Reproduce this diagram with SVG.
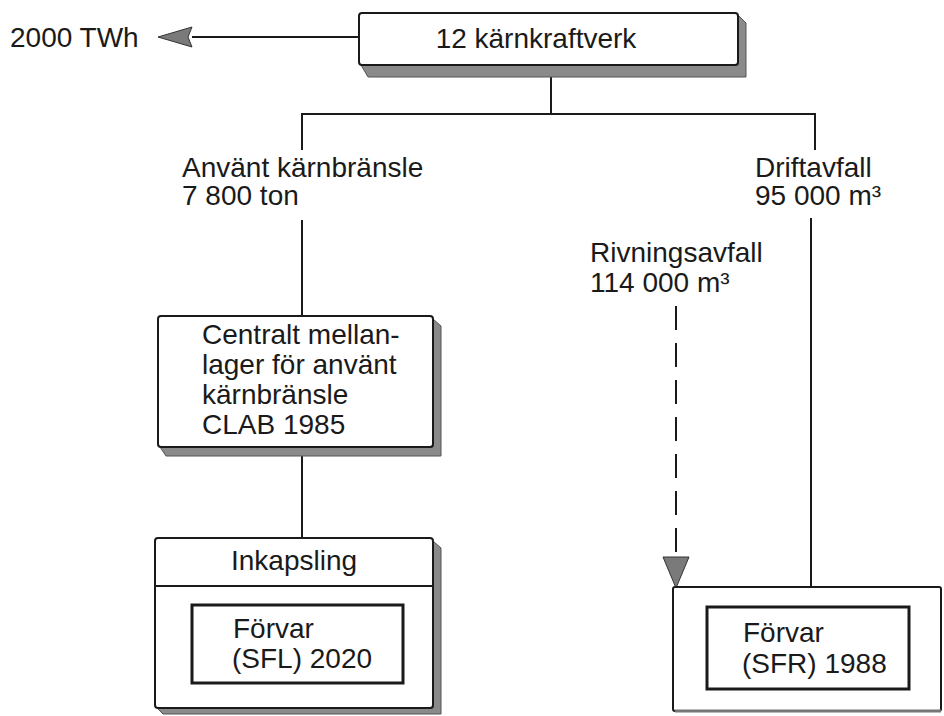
<svg xmlns="http://www.w3.org/2000/svg" width="944" height="716" viewBox="0 0 944 716">
<defs>
<style>
text{font-family:"Liberation Sans",Arial,Helvetica,sans-serif;fill:#1a1a1a;}
.lbl{font-size:28px;}
.box{fill:#fff;stroke:#1a1a1a;stroke-width:2;}
.inner{fill:#fff;stroke:#1a1a1a;stroke-width:3;}
.shadow{fill:#8a8a8a;stroke:#555;stroke-width:1;}
.line{fill:none;stroke:#1a1a1a;stroke-width:2;}
.dash{fill:none;stroke:#1a1a1a;stroke-width:2;stroke-dasharray:24 13;}
.head{fill:#7a7a7a;stroke:#333;stroke-width:1;}
</style>
</defs>
<rect width="944" height="716" fill="#fff"/>
<g id="connectors">
<line class="line" x1="192" y1="37" x2="359" y2="37"/>
<polygon class="head" points="158,37 192,27 188,37 192,47"/>
<line class="line" x1="551" y1="76" x2="551" y2="114"/>
<polyline class="line" points="302,150 302,114 815,114 815,150"/>
<line class="line" x1="302" y1="220" x2="302" y2="316"/>
<line class="line" x1="811" y1="218" x2="811" y2="587"/>
<line class="line" x1="302" y1="455" x2="302" y2="538"/>
<line class="dash" x1="676" y1="306" x2="676" y2="560"/>
<polygon class="head" points="663,557 689,557 676,588"/>
</g>
<g id="out-label">
<text class="lbl" x="10" y="47" font-size="29">2000 TWh</text>
</g>
<g id="reactors">
<polygon class="shadow" points="361,65 738,65 738,15 746,23 746,77 368,77"/>
<rect class="box" x="359" y="13" width="379" height="52" rx="3"/>
<text class="lbl" x="536" y="48" text-anchor="middle" font-size="26">12 kärnkraftverk</text>
</g>
<g id="spent-fuel-label">
<text class="lbl" x="182" y="177">Använt kärnbränsle</text>
<text class="lbl" x="182" y="205">7 800 ton</text>
</g>
<g id="operational-waste-label">
<text class="lbl" x="755" y="177">Driftavfall</text>
<text class="lbl" x="755" y="205">95 000 m³</text>
</g>
<g id="decommissioning-label">
<text class="lbl" x="590" y="262">Rivningsavfall</text>
<text class="lbl" x="590" y="292">114 000 m³</text>
</g>
<g id="clab">
<polygon class="shadow" points="160,447 433,447 433,319 441,326 441,456 166,456"/>
<rect class="box" x="158" y="316" width="275" height="131" rx="3"/>
<text class="lbl" x="202" y="344" font-size="29">Centralt mellan-</text>
<text class="lbl" x="202" y="374" font-size="29">lager för använt</text>
<text class="lbl" x="202" y="404" font-size="29">kärnbränsle</text>
<text class="lbl" x="202" y="434" font-size="29">CLAB 1985</text>
</g>
<g id="sfl">
<polygon class="shadow" points="157,708 433,708 433,541 441,548 441,714 163,714"/>
<rect class="box" x="155" y="538" width="278" height="170" rx="3"/>
<line class="line" x1="155" y1="586" x2="433" y2="586"/>
<text class="lbl" x="294" y="570" text-anchor="middle" font-size="29">Inkapsling</text>
<rect class="inner" x="192" y="605" width="211" height="78"/>
<text class="lbl" x="233" y="638" font-size="27">Förvar</text>
<text class="lbl" x="232" y="668" font-size="27">(SFL) 2020</text>
</g>
<g id="sfr">
<rect class="box" x="673" y="587" width="268" height="124" rx="2"/>
<line x1="675" y1="711" x2="941" y2="711" stroke="#777" stroke-width="3"/>
<rect class="inner" x="707" y="607" width="202" height="82"/>
<text class="lbl" x="743" y="642" font-size="27">Förvar</text>
<text class="lbl" x="742" y="673" font-size="27">(SFR) 1988</text>
</g>
</svg>
